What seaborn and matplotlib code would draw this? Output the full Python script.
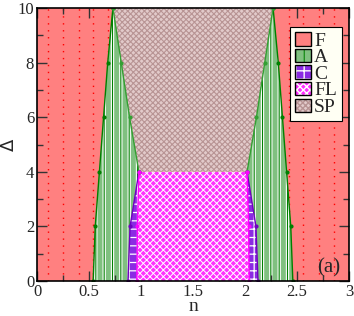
import matplotlib
matplotlib.use("Agg")
import matplotlib.pyplot as plt
from matplotlib.patches import Patch
from matplotlib.legend_handler import HandlerTuple
from matplotlib.ticker import MultipleLocator, FuncFormatter
import seaborn as sns
import pandas as pd

# ---- data ----
delta_full = [0, 2, 4, 6, 8, 10]
delta_low = [0, 2, 4]
delta_high = [4, 6, 8, 10]

left_FA = [0.54, 0.56, 0.60, 0.64, 0.68, 0.73]      # F/A boundary, left
left_ASP = [0.98, 0.89, 0.81, 0.73]                  # A/SP boundary, left (delta_high)
left_AC = [0.875, 0.895, 0.98]                        # A/C boundary, left (delta_low)
left_CFL = [0.96, 0.965, 0.98]                        # C/FL boundary, left (delta_low)

right_FA = [2.46, 2.44, 2.40, 2.36, 2.32, 2.27]
right_ASP = [2.02, 2.11, 2.19, 2.27]
right_AC = [2.125, 2.105, 2.02]
right_CFL = [2.04, 2.035, 2.02]

f_dotted_n = [0.11, 0.25, 0.40, 0.54, 0.68, 2.42, 2.56, 2.71, 2.86]

labels = ["F", "A", "C", "FL", "SP"]

# style layers per region: (facecolor, hatch, hatchcolor, hatch linewidth)
layers = {
    "F": [("#ff8080", None, "#ff8080", 1.0)],
    "A": [("#80c080", "||", "white", 2.4), ("none", "||", "#008000", 0.8)],
    "C": [("#8a2be2", "++", "white", 0.9)],
    "FL": [("#ff30ff", "xxxxx", "white", 0.7)],
    "SP": [("#e2caca", "xxxxxx", "#b89494", 0.8)],
}

sns.set_theme(style="ticks")
plt.rcParams["font.family"] = ["Liberation Serif", "DejaVu Serif"]

fig = plt.figure(figsize=(3.54, 3.16), dpi=100)
ax = fig.add_axes([37 / 354, 1 - 281 / 316, 312 / 354, 273 / 316])
ax.set_xlim(0, 3)
ax.set_ylim(0, 10)


def make_patch_kwargs(fc, h, hc):
    return dict(facecolor=fc, edgecolor=hc, hatch=h, linewidth=0)


def region(xs, ys, key, z):
    for fc, h, hc, hlw in layers[key]:
        with plt.rc_context({"hatch.linewidth": hlw}):
            polys = ax.fill(xs, ys, zorder=z, **make_patch_kwargs(fc, h, hc))
        for p in polys:
            if hasattr(p, "set_hatch_linewidth"):
                p.set_hatch_linewidth(hlw)


# F background
region([0, 3, 3, 0], [0, 0, 10, 10], "F", 1)
for xv in f_dotted_n:
    ax.axvline(xv, color="red", linestyle=(0, (1, 4)), linewidth=1.0, zorder=1.5)

# A regions
for FA, ASP, AC in [(left_FA, left_ASP, left_AC), (right_FA, right_ASP, right_AC)]:
    xs = list(FA) + list(ASP[::-1])[1:] + list(AC[::-1])[1:]
    ys = list(delta_full) + list(delta_high[::-1])[1:] + list(delta_low[::-1])[1:]
    region(xs, ys, "A", 2)

# C regions
for AC, CFL in [(left_AC, left_CFL), (right_AC, right_CFL)]:
    xs = list(AC) + list(CFL[::-1])
    ys = list(delta_low) + list(delta_low[::-1])
    region(xs, ys, "C", 3)

# FL region
xs = list(left_CFL) + list(right_CFL[::-1])
ys = list(delta_low) + list(delta_low[::-1])
region(xs, ys, "FL", 3)

# SP region
xs = list(left_ASP) + list(right_ASP[::-1])
ys = list(delta_high) + list(delta_high[::-1])
region(xs, ys, "SP", 3)


# boundary lines
def bline(xv, yv, color):
    df = pd.DataFrame({"n": xv, "d": yv})
    sns.lineplot(data=df, x="n", y="d", sort=False, estimator=None, color=color,
                 linewidth=1.0, marker="o", markersize=3, markeredgewidth=0,
                 ax=ax, zorder=4)


bline(left_FA, delta_full, "#008000")
bline(right_FA, delta_full, "#008000")
bline(left_ASP, delta_high, "#33a033")
bline(right_ASP, delta_high, "#33a033")
bline(left_AC, delta_low, "#7000c0")
bline(right_AC, delta_low, "#7000c0")
bline(left_CFL, delta_low, "#ff00ff")
bline(right_CFL, delta_low, "#ff00ff")

ax.set_xlabel("n", fontsize=14, labelpad=-1)
ax.set_ylabel("Δ", fontsize=13, family=["DejaVu Sans"])
ax.yaxis.set_label_coords(-0.06, 0.5)

ax.xaxis.set_major_locator(MultipleLocator(0.5))
ax.xaxis.set_minor_locator(MultipleLocator(0.25))
ax.yaxis.set_major_locator(MultipleLocator(2))
ax.yaxis.set_minor_locator(MultipleLocator(1))
ax.xaxis.set_major_formatter(FuncFormatter(lambda v, p: f"{v:g}"))
ax.tick_params(which="both", direction="in", top=True, right=True, labelsize=12,
               color="#333333")
ax.tick_params(which="major", length=7, width=1, pad=2)
ax.tick_params(which="minor", length=4, width=1)
for s in ax.spines.values():
    s.set_linewidth(1.2)
    s.set_zorder(6)
    s.set_color("black")
ax.set_axisbelow(False)

ax.text(2.8, 0.48, "(a)", fontsize=15, ha="center", va="center", zorder=7)

handles = []
for k in labels:
    parts = []
    for fc, h, hc, hlw in layers[k]:
        with plt.rc_context({"hatch.linewidth": hlw}):
            p = Patch(**make_patch_kwargs(fc, h, hc))
        if hasattr(p, "set_hatch_linewidth"):
            p.set_hatch_linewidth(hlw)
        parts.append(p)
    parts.append(Patch(facecolor="none", edgecolor="black", linewidth=1.0))
    handles.append(tuple(parts))
leg = ax.legend(handles, labels, handler_map={tuple: HandlerTuple(ndivide=1, pad=0)},
                loc="upper left", bbox_to_anchor=(0.81, 0.93), fontsize=14,
                frameon=True, fancybox=False, framealpha=1, edgecolor="black",
                facecolor="#fffff4", handlelength=0.85, handleheight=0.7,
                handletextpad=0.15, labelspacing=-0.05, borderpad=0.25,
                borderaxespad=0)
leg.get_frame().set_linewidth(0.8)
leg.set_zorder(8)

fig.savefig("out.png", dpi=100)
